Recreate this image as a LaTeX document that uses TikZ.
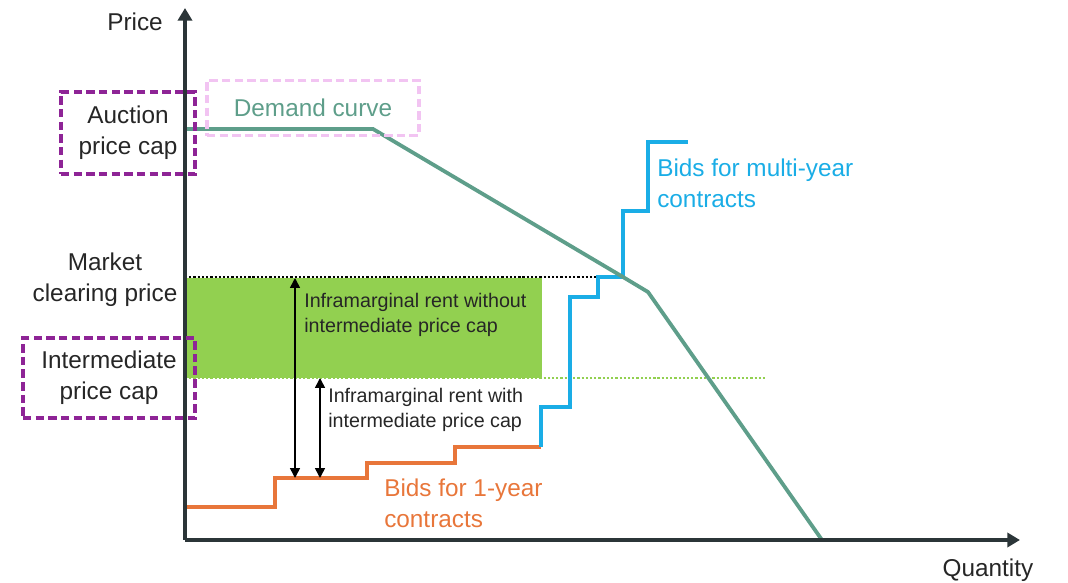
\documentclass[tikz,border=0pt]{standalone}
\usepackage{fontspec}
\setmainfont{Liberation Sans}
\usetikzlibrary{arrows.meta}
\definecolor{axisgray}{HTML}{2B3538}
\definecolor{textgray}{HTML}{262626}
\definecolor{demandteal}{HTML}{5E9E8A}
\definecolor{rentgreen}{HTML}{92D050}
\definecolor{bidblue}{HTML}{1AADE6}
\definecolor{bidorange}{HTML}{E8763A}
\definecolor{capviolet}{HTML}{8E2496}
\definecolor{capPink}{HTML}{F2C4F2}
\tikzset{
  every picture/.style={font={\fontsize{17.3}{22}\selectfont}, text=textgray,
    >={Triangle[length=7pt,width=7pt]}},
  every node/.style={align=center, inner sep=0pt}}

\begin{document}
\begin{tikzpicture}[x=0.025cm, y=-0.025cm,
    axis/.style={draw=axisgray, line width=2.9pt,
      -{Triangle[length=9pt,width=10pt]}},
    capBox/.style={draw=capviolet, line width=2.8pt,
      dash pattern=on 6pt off 3pt},
    curve/.style={line width=2.7pt},
    rent/.style={<->, line width=1.1pt, black},
    small/.style={font={\fontsize{14}{17.5}\selectfont}, align=left}]

    \useasboundingbox (0,0) rectangle (1068,583);

    % rent area
    \fill[rentgreen] (187,278) rectangle (542,378);

    % curve points
    \coordinate (o) at (185,540);
    \coordinate (yTop) at (185,8);
    \coordinate (xEnd) at (1020,540);
    \coordinate (d0) at (185,129);
    \coordinate (d1) at (373,129);
    \coordinate (mcp) at (623,277);
    \coordinate (d2) at (648,292);
    \coordinate (d3) at (822,540);
    \coordinate (mcpL) at (185,277);
    \coordinate (capL) at (185,378);
    \coordinate (capR) at (766,378);

    \draw[black, line width=2pt, dash pattern=on 1.6pt off 1.4pt] (mcpL) -- (mcp);
    \draw[rentgreen, line width=2pt, dash pattern=on 1.6pt off 1.4pt] (capL) -- (capR);

    % bids
    \draw[curve, bidorange] (185,507) -| (275,478) -| (367,463) -| (455,447)
      -- (541,447);
    \draw[curve, bidblue] (541,447) |- (570,407) |- (598,297) |- (mcp)
      |- (648,211) |- (688,142);
    \draw[curve, demandteal] (d0) -- (d1) -- (mcp) -- (d2) -- (d3);

    % axes
    \draw[axis] (o) -- (yTop);
    \draw[axis] (o) -- (xEnd);
    \node (price) at (135,22) {Price};
    \node (qty) at (988,570) {Quantity};

    % labels on the price axis
    \node[capBox, minimum width=3.35cm, minimum height=2.05cm] (auction)
      at (128,133) {Auction\\price cap};
    \node[draw=capPink, line width=2.8pt, dash pattern=on 6pt off 3pt,
      minimum width=5.3cm, minimum height=1.375cm, text=demandteal] (demand)
      at (313,108) {Demand curve};
    \node (clearing) at (105,280) {Market\\clearing price};
    \node[capBox, minimum width=4.3cm, minimum height=2cm] (interm)
      at (109,378) {Intermediate\\price cap};

    % rents
    \coordinate (r1t) at (295,278);
    \coordinate (r1b) at (295,478);
    \coordinate (r2t) at (320,378);
    \coordinate (r2b) at (320,478);
    \draw[rent] (r1t) -- (r1b);
    \draw[rent] (r2t) -- (r2b);
    \node[small, anchor=west] (rentNo) at (304,315)
      {Inframarginal rent without\\intermediate price cap};
    \node[small, anchor=west] (rentCap) at (328,410)
      {Inframarginal rent with\\intermediate price cap};

    \node[anchor=west, align=left, text=bidorange] (oneYear) at (384,503)
      {Bids for 1-year\\contracts};
    \node[anchor=west, align=left, text=bidblue] (multiYear) at (657,183)
      {Bids for multi-year\\contracts};
  \end{tikzpicture}
\end{document}
